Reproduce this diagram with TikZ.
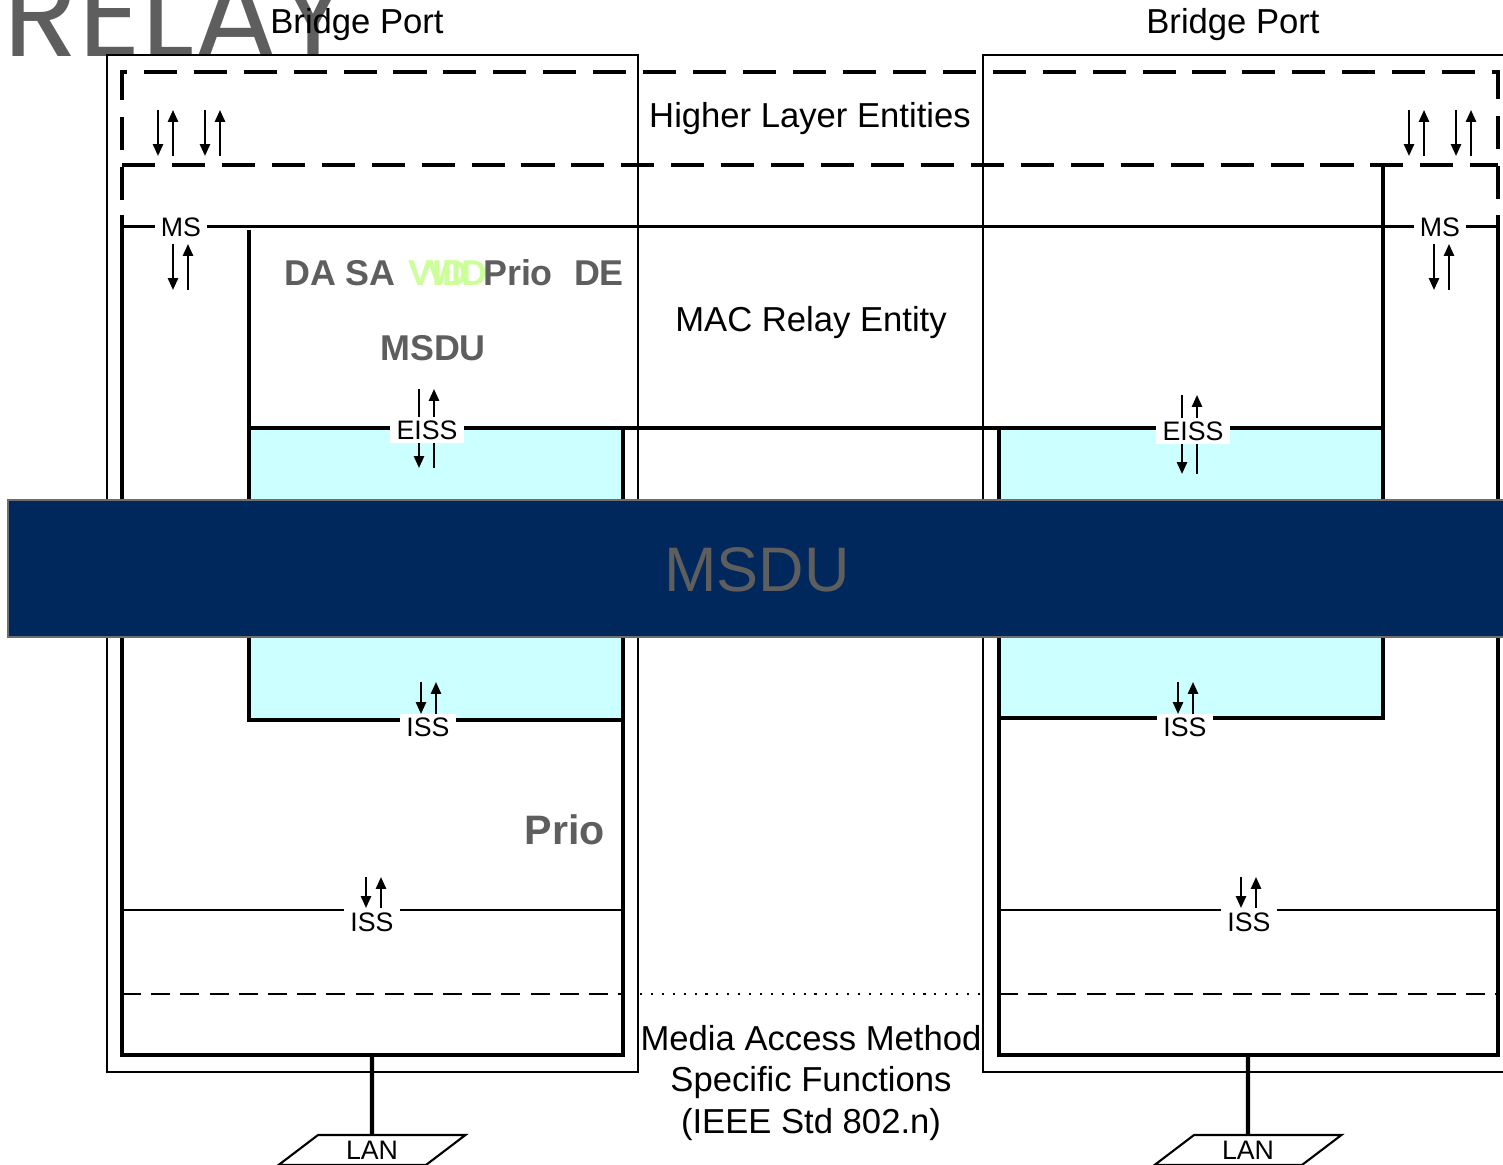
\documentclass[tikz,border=0pt]{standalone}
\usepackage{fontspec}
\setmainfont{Liberation Sans}
\newfontfamily\logofont{Poppins}
\usetikzlibrary{shapes.geometric, arrows.meta, positioning}
\definecolor{bandblue}{RGB}{0,40,92}
\definecolor{bandedge}{RGB}{110,110,110}
\definecolor{labelgray}{RGB}{94,94,94}
\definecolor{vidgreen}{RGB}{204,255,153}
\definecolor{entcyan}{RGB}{204,255,255}

\begin{document}
\begin{tikzpicture}[x=0.01cm, y=-0.01cm,
    thin line/.style={line width=0.6pt},
    thick line/.style={line width=1.15pt},
    ms line/.style={line width=0.85pt},
    hl dash/.style={line width=1.15pt, dash pattern=on 9.4pt off 4.8pt},
    mac dash/.style={line width=0.7pt, dash pattern=on 5.4pt off 2.9pt},
    updown/.style={line width=0.6pt, -{Triangle[length=3.4pt, width=2.9pt]}},
    sap/.style={fill=white, inner xsep=1.8pt, inner ysep=1pt, font=\fontsize{7.6}{9}\selectfont},
    title/.style={anchor=base, inner sep=0pt, font=\fontsize{9.85}{11.9}\selectfont},
    field/.style={inner sep=0pt, text=labelgray, font=\fontsize{10.2}{12}\selectfont\bfseries},
    lan/.style={trapezium, draw, thin line, trapezium left angle=44, trapezium right angle=136,
        trapezium stretches=true, minimum width=1.87cm, minimum height=0.3cm, inner sep=0pt,
        font=\fontsize{7.6}{9}\selectfont}]
\useasboundingbox (0,0) rectangle (1503,1165);

\node[anchor=base west, inner sep=0pt, text=labelgray, font=\logofont\fontsize{35}{40}\selectfont] (logo) at (3,57) {RELAY};
\node[title] (portL) at (357,34) {Bridge Port};
\node[title] (portR) at (1233,34) {Bridge Port};

\draw[thin line] (107,55) rectangle (638,1072);
\draw[thin line] (983,55) rectangle (1520,1072);

\draw[hl dash] (122,200) -- (122,72) -- (1498,72) -- (1498,200);
\draw[hl dash] (122,165) -- (1498,165);
\node[title] (hle) at (810,128) {Higher Layer Entities};

\fill[entcyan] (249,428) rectangle (623,720);
\fill[entcyan] (999,428) rectangle (1383,718);
\draw[thick line] (122,215) -- (122,1055) -- (623,1055) -- (623,428);
\draw[thick line] (249,230) -- (249,720) -- (623,720);
\draw[thick line] (249,428) -- (1383,428);
\draw[thick line] (1400,165) -- (1383,165) -- (1383,718) -- (999,718);
\draw[thick line] (999,428) -- (999,1055) -- (1498,1055) -- (1498,215);
\draw[ms line] (122,227) -- (1498,227);
\draw[thin line] (122,910) -- (623,910) (999,910) -- (1498,910);
\draw[mac dash] (122,994) -- (623,994) (999,994) -- (1498,994);
\draw[line width=0.4pt, dash pattern=on 0.6pt off 2.5pt] (640,994) -- (983,994);

\foreach \x/\yt/\yb in {158/110/156, 205/110/156, 1409/110/156, 1456/110/156,
    173/244/290, 1434/244/290, 419/389/468, 1182/395/474,
    421/682/714, 1178/682/714, 366/877/908, 1241/877/908}
  {\draw[updown] (\x,\yt) -- (\x,\yb);
   \draw[updown] (\x+15,\yb) -- (\x+15,\yt);}

\node[sap] (msL) at (181,227) {MS};
\node[sap] (msR) at (1440,227) {MS};
\node[sap] (eissL) at (427,430) {EISS};
\node[sap] (eissR) at (1193,431) {EISS};
\node[sap] (issL) at (428,727) {ISS};
\node[sap] (issR) at (1185,727) {ISS};
\node[sap] (issLL) at (372,922) {ISS};
\node[sap] (issRL) at (1249,922) {ISS};

\node[title] (relay) at (811,332) {MAC Relay Entity};
\node[field] (dasa) at (340,273) {DA SA};
\node[field, text=vidgreen, anchor=west] (vidA) at (408,273) {VID};
\node[field, text=vidgreen, anchor=west] (vidB) at (427,273) {VID};
\node[field] (prioA) at (518,273) {Prio};
\node[field] (de) at (599,273) {DE};
\node[field] (msduA) at (433,348) {MSDU};
\node[field, font=\fontsize{11.7}{14}\selectfont\bfseries] (prioB) at (565,830) {Prio};

\node[inner sep=0pt, align=center, font=\fontsize{9.85}{11.9}\selectfont] (mamsf) at (811,1083) {Media Access Method\\Specific Functions\\(IEEE Std 802.n)};

\draw[fill=bandblue, draw=bandedge, line width=0.6pt] (8,500) rectangle (1520,637);
\node[text=labelgray, font=\fontsize{17.9}{21}\selectfont] (msduBand) at (757,570) {MSDU};

\node[lan] (lanL) at (372,1150) {LAN};
\node[lan] (lanR) at (1248,1150) {LAN};
\coordinate (feedL) at (372,1055);
\coordinate (feedR) at (1248,1055);
\draw[thick line] (feedL) -- (lanL);
\draw[thick line] (feedR) -- (lanR);
\end{tikzpicture}
\end{document}
